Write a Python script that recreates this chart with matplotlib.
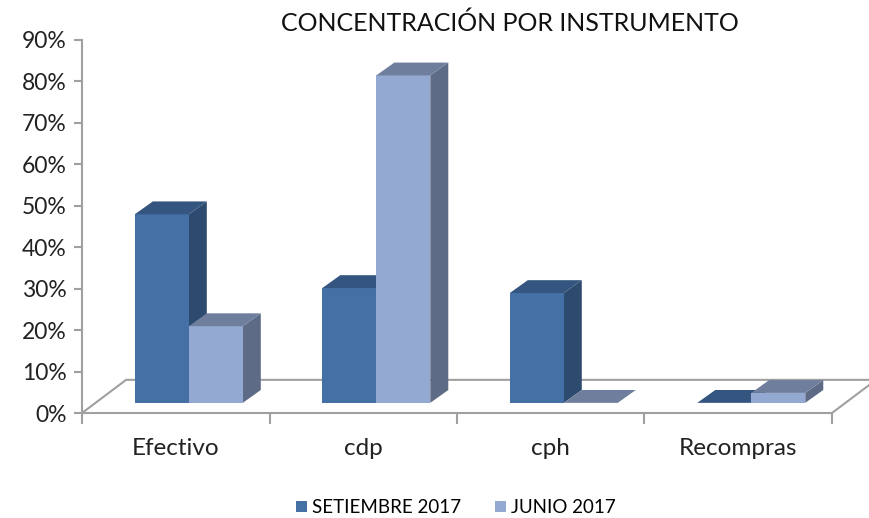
import matplotlib.pyplot as plt
from matplotlib.patches import Polygon, Rectangle

plt.rcParams['font.family'] = ['Lato', 'DejaVu Sans']

categorias = ["Efectivo", "cdp", "cph", "Recompras"]
setiembre = [0.455, 0.277, 0.265, 0.0]
junio = [0.185, 0.79, 0.0, 0.024]
series = ["SETIEMBRE 2017", "JUNIO 2017"]

# colores: frente, lado, tapa
col_set = ("#4470a6", "#2d4a6f", "#34557f")
col_jun = ("#94a9d1", "#5e6b86", "#6f7e9c")

# profundidad 3D en unidades de datos
piso_dx, piso_dy = 0.235, 0.080
barra_dx, barra_dy = 0.096, 0.031
ancho = 0.288
gris = "#a0a0a0"

fig = plt.figure(figsize=(8.69, 5.18), dpi=100)
ax = fig.add_axes([0.0944, 0.2027, 0.863, 0.7201])
ax.set_xlim(0, len(categorias))
ax.set_ylim(0, 0.9)

# piso
piso = [(0, 0), (len(categorias), 0), (len(categorias) + piso_dx, piso_dy), (piso_dx, piso_dy)]
ax.add_patch(Polygon(piso, closed=True, facecolor="white", edgecolor=gris, lw=1.5,
                     clip_on=False, zorder=1))


def barra(x0, v, colores):
    # base frontal de la barra, centrada en la profundidad del piso
    bx = x0 + (piso_dx - barra_dx) / 2
    by = (piso_dy - barra_dy) / 2
    frente, lado, tapa = colores
    if v > 0:
        ax.add_patch(Rectangle((bx, by), ancho, v, facecolor=frente, edgecolor="none",
                               clip_on=False, zorder=3))
    ax.add_patch(Polygon([(bx + ancho, by), (bx + ancho + barra_dx, by + barra_dy),
                          (bx + ancho + barra_dx, by + barra_dy + v), (bx + ancho, by + v)],
                         closed=True, facecolor=lado, edgecolor="none", clip_on=False, zorder=2))
    ax.add_patch(Polygon([(bx, by + v), (bx + ancho, by + v),
                          (bx + ancho + barra_dx, by + v + barra_dy), (bx + barra_dx, by + v + barra_dy)],
                         closed=True, facecolor=tapa, edgecolor="none", clip_on=False, zorder=3))


for i in range(len(categorias)):
    centro = i + 0.5
    barra(centro - ancho, setiembre[i], col_set)
    barra(centro, junio[i], col_jun)

ax.spines["top"].set_visible(False)
ax.spines["right"].set_visible(False)
ax.spines["bottom"].set_visible(False)
ax.spines["left"].set_color(gris)
ax.spines["left"].set_linewidth(1.5)

ax.set_yticks([i / 10 for i in range(10)])
ax.set_yticklabels([f"{i * 10}%" for i in range(10)], fontsize=16.5, color="#222222")
ax.tick_params(axis="y", length=6, width=1.5, color=gris, pad=5)

ax.set_xticks(range(len(categorias) + 1))
ax.set_xticklabels([""] * (len(categorias) + 1))
ax.tick_params(axis="x", length=8, width=1.5, color=gris)
for i, c in enumerate(categorias):
    ax.text(i + 0.5, -0.085, c, ha="center", va="center", fontsize=17.5, color="#222222")

fig.text(0.587, 0.955, "CONCENTRACIÓN POR INSTRUMENTO", ha="center", va="center",
         fontsize=18, color="#111111")

handles = [Rectangle((0, 0), 1, 1, facecolor=col_set[0]), Rectangle((0, 0), 1, 1, facecolor=col_jun[0])]
fig.legend(handles, series, loc="center", bbox_to_anchor=(0.525, 0.02), ncol=2, frameon=False,
           fontsize=13.5, handlelength=0.55, handleheight=0.55, handletextpad=0.3, columnspacing=1.8)

fig.savefig("out.png", dpi=100)
